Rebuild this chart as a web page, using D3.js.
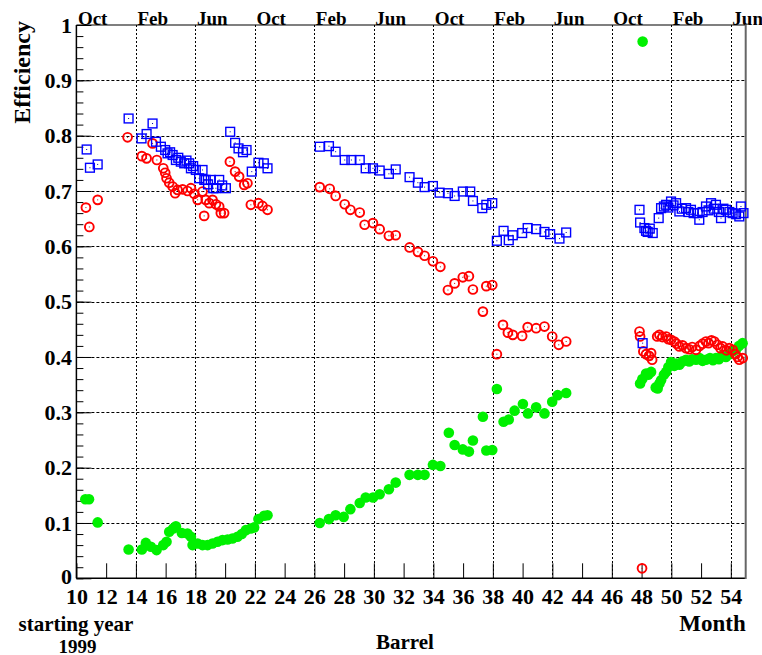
<!DOCTYPE html>
<html>
<head>
<meta charset="utf-8">
<script src="https://cdn.jsdelivr.net/npm/d3@7"></script>
<style>
  html, body { margin: 0; padding: 0; background: #fff; }
  svg { display: block; }
  text { font-family: "Liberation Serif", "Times New Roman", serif; font-weight: bold; fill: #000; }
</style>
</head>
<body>
<script>
// Efficiency per month, three measurement series: [month, efficiency]
const squareSeries = [
  [10.69,0.775],[10.91,0.742],[11.43,0.748],
  [13.51,0.831],
  [14.38,0.795],[14.72,0.803],[15.12,0.822],[15.35,0.789],[15.68,0.780],[15.97,0.774],[16.13,0.768],[16.30,0.770],
  [16.47,0.765],[16.69,0.756],[16.85,0.760],[17.02,0.753],[17.25,0.750],[17.40,0.755],[17.58,0.750],[17.70,0.741],
  [17.85,0.745],[18.03,0.738],[18.25,0.723],[18.48,0.738],[18.60,0.720],[18.70,0.720],[18.85,0.712],[19.04,0.720],
  [19.20,0.705],[19.38,0.705],[19.60,0.720],[19.80,0.710],[20.05,0.705],
  [20.34,0.807],[20.67,0.787],[20.90,0.777],[21.20,0.770],[21.44,0.774],[21.79,0.735],[22.24,0.751],[22.60,0.750],[22.85,0.741],
  [26.36,0.780],[26.98,0.781],[27.43,0.771],[28.04,0.756],[28.49,0.756],[29.05,0.756],[29.45,0.741],[29.94,0.741],
  [30.39,0.737],[31.01,0.731],[31.47,0.739],[32.40,0.725],[32.96,0.715],[33.41,0.707],[33.97,0.709],[34.42,0.697],
  [34.98,0.696],[35.43,0.691],[35.98,0.699],[36.48,0.699],[36.66,0.682],[37.29,0.669],[37.56,0.675],[37.96,0.678],
  [38.27,0.610],[38.72,0.628],[39.07,0.611],[39.34,0.620],[39.97,0.624],[40.34,0.633],[40.91,0.631],[41.47,0.626],
  [41.85,0.622],[42.48,0.614],[42.93,0.625],
  [47.86,0.666],[47.90,0.643],[48.07,0.425],[48.19,0.633],[48.30,0.628],[48.41,0.626],[48.55,0.632],[48.75,0.624],
  [49.15,0.651],[49.31,0.669],[49.50,0.672],[49.65,0.675],[49.80,0.670],[49.98,0.681],[50.15,0.674],[50.32,0.678],
  [50.54,0.663],[50.70,0.668],[50.99,0.669],[51.15,0.662],[51.32,0.666],[51.50,0.660],[51.77,0.660],[51.88,0.648],
  [52.10,0.662],[52.33,0.672],[52.50,0.665],[52.67,0.678],[52.85,0.668],[53.00,0.675],[53.20,0.662],[53.34,0.651],
  [53.50,0.668],[53.67,0.666],[53.90,0.662],[54.12,0.660],[54.35,0.658],[54.57,0.654],[54.68,0.672],[54.85,0.660]
];

const circleSeries = [
  [10.64,0.670],[10.87,0.635],[11.43,0.684],
  [13.44,0.797],
  [14.40,0.763],[14.72,0.759],[15.12,0.786],[15.41,0.756],[15.84,0.741],[15.97,0.733],[16.06,0.723],[16.24,0.715],
  [16.47,0.708],[16.64,0.696],[16.80,0.702],[17.14,0.703],[17.47,0.700],[17.70,0.705],[17.92,0.695],[18.15,0.684],
  [18.48,0.699],[18.59,0.655],[18.70,0.684],[18.93,0.678],[19.15,0.684],[19.38,0.676],[19.60,0.672],[19.71,0.660],[19.93,0.660],
  [20.32,0.753],[20.67,0.735],[20.94,0.726],[21.28,0.711],[21.50,0.714],[21.73,0.675],[22.24,0.678],[22.51,0.673],[22.85,0.666],
  [26.36,0.707],[27.03,0.704],[27.43,0.691],[28.04,0.676],[28.42,0.666],[29.05,0.661],[29.38,0.639],[29.94,0.642],
  [30.39,0.631],[31.01,0.619],[31.47,0.620],[32.40,0.598],[32.96,0.590],[33.41,0.583],[33.97,0.573],[34.47,0.563],
  [34.98,0.521],[35.43,0.533],[35.98,0.544],[36.39,0.546],[36.66,0.522],[37.33,0.482],[37.56,0.528],[37.96,0.530],
  [38.27,0.405],[38.68,0.458],[39.01,0.444],[39.34,0.440],[39.97,0.438],[40.34,0.454],[40.91,0.452],[41.47,0.455],
  [41.99,0.437],[42.43,0.422],[42.93,0.428],
  [47.86,0.446],[47.90,0.437],[48.03,0.018],[48.12,0.410],[48.30,0.405],[48.50,0.402],[48.64,0.407],[48.71,0.395],
  [49.05,0.437],[49.20,0.440],[49.40,0.436],[49.65,0.437],[49.80,0.432],[49.98,0.431],[50.20,0.428],[50.35,0.424],
  [50.54,0.419],[50.75,0.421],[50.99,0.416],[51.20,0.414],[51.40,0.418],[51.66,0.413],[51.90,0.420],[52.10,0.424],
  [52.33,0.428],[52.50,0.425],[52.70,0.430],[52.89,0.428],[53.10,0.422],[53.30,0.416],[53.45,0.419],[53.70,0.412],
  [53.90,0.416],[54.12,0.413],[54.30,0.405],[54.45,0.400],[54.57,0.395],[54.80,0.398]
];

const dotSeries = [
  [10.60,0.143],[10.85,0.143],[11.43,0.101],
  [13.51,0.052],
  [14.40,0.052],[14.67,0.064],[15.01,0.057],[15.39,0.051],[15.84,0.060],[16.06,0.066],[16.24,0.084],[16.51,0.090],
  [16.69,0.094],[17.09,0.082],[17.47,0.081],[17.70,0.075],[17.81,0.060],[18.15,0.063],[18.48,0.060],[18.82,0.060],
  [19.15,0.063],[19.49,0.066],[19.82,0.069],[20.16,0.070],[20.49,0.072],[20.83,0.075],[21.12,0.080],[21.39,0.087],
  [21.73,0.090],[21.95,0.092],[22.24,0.107],[22.62,0.113],[22.85,0.114],
  [26.36,0.100],[26.98,0.107],[27.43,0.114],[27.97,0.111],[28.42,0.125],[29.05,0.136],[29.45,0.146],[29.94,0.146],
  [30.39,0.152],[31.01,0.161],[31.47,0.173],[32.40,0.187],[32.96,0.187],[33.41,0.187],[33.97,0.205],[34.47,0.203],
  [35.04,0.263],[35.43,0.241],[35.98,0.233],[36.39,0.229],[36.66,0.249],[37.33,0.292],[37.56,0.231],[37.96,0.232],
  [38.27,0.342],[38.72,0.283],[39.07,0.287],[39.46,0.303],[40.02,0.315],[40.36,0.298],[40.91,0.309],[41.47,0.298],
  [41.99,0.319],[42.36,0.331],[42.93,0.335],
  [47.90,0.352],[48.05,0.360],[48.07,0.970],[48.30,0.370],[48.45,0.368],[48.64,0.373],[48.95,0.345],[49.08,0.343],
  [49.20,0.352],[49.31,0.358],[49.50,0.368],[49.65,0.373],[49.80,0.382],[49.98,0.391],[50.20,0.384],[50.35,0.388],
  [50.54,0.386],[50.75,0.392],[50.99,0.395],[51.20,0.392],[51.40,0.396],[51.66,0.395],[51.90,0.398],[52.10,0.393],
  [52.33,0.395],[52.60,0.398],[52.80,0.394],[53.00,0.398],[53.20,0.396],[53.40,0.402],[53.67,0.400],[53.90,0.405],
  [54.10,0.410],[54.34,0.413],[54.55,0.420],[54.79,0.425]
];

// Axis ticks and labels
const monthTicks = [10,12,14,16,18,20,22,24,26,28,30,32,34,36,38,40,42,44,46,48,50,52,54];
const seasonTicks = [10,14,18,22,26,30,34,38,42,46,50,54];
const seasonLabels = ["Oct","Feb","Jun","Oct","Feb","Jun","Oct","Feb","Jun","Oct","Feb","Jun"];
const effTicks = [0,0.1,0.2,0.3,0.4,0.5,0.6,0.7,0.8,0.9,1];
const effMinorTicks = d3.range(0, 101, 2).map(v => v / 100);

const W = 762, H = 655;
const plotLeft = 76.4, plotRight = 745.7, plotTop = 25, plotBottom = 578.3;

const svg = d3.select("body").append("svg").attr("width", W).attr("height", H);

const x = d3.scaleLinear().domain([10, 55]).range([plotLeft, plotRight]);
const y = d3.scaleLinear().domain([0, 1]).range([plotBottom, plotTop]);

// dotted grid
const grid = svg.append("g").attr("stroke", "#000").attr("stroke-width", 1).attr("fill", "none");
grid.selectAll("line.h").data(effTicks.filter(v => v > 0 && v < 1)).join("line")
  .attr("x1", plotLeft).attr("x2", plotRight)
  .attr("y1", d => Math.round(y(d)) + 0.5).attr("y2", d => Math.round(y(d)) + 0.5)
  .attr("stroke-dasharray", "3,2");
grid.selectAll("line.v").data(seasonTicks.filter(v => v > 10)).join("line")
  .attr("x1", d => Math.round(x(d)) + 0.5).attr("x2", d => Math.round(x(d)) + 0.5)
  .attr("y1", plotTop).attr("y2", plotBottom)
  .attr("stroke-dasharray", "2,2");

// bottom axis: ticks pointing up into the frame
const xAxis = svg.append("g").attr("transform", `translate(0,${plotBottom})`)
  .call(d3.axisBottom(x).tickValues(monthTicks).tickSizeInner(-15).tickSizeOuter(0).tickFormat(d3.format("d")));
xAxis.select(".domain").remove();
xAxis.selectAll(".tick line").attr("stroke", "#000").attr("stroke-width", 1);
xAxis.selectAll(".tick text").attr("y", 25.7).attr("dy", 0).attr("font-size", 22)
  .style("font-family", "'Liberation Serif', serif").style("font-weight", "bold");

// top axis: season labels
const topAxis = svg.append("g").attr("transform", `translate(0,${plotTop})`)
  .call(d3.axisTop(x).tickValues(seasonTicks).tickSize(0).tickFormat((d, i) => seasonLabels[i]));
topAxis.select(".domain").remove();
topAxis.selectAll(".tick text").attr("text-anchor", "start").attr("x", 1).attr("y", -0.5).attr("dy", 0)
  .attr("font-size", 19).style("font-family", "'Liberation Serif', serif").style("font-weight", "bold");

// left axis: major and minor ticks inside the frame
const yMinor = svg.append("g").attr("transform", `translate(${plotLeft},0)`)
  .call(d3.axisLeft(y).tickValues(effMinorTicks).tickSize(-7).tickFormat(""));
yMinor.select(".domain").remove();
const yAxis = svg.append("g").attr("transform", `translate(${plotLeft},0)`)
  .call(d3.axisLeft(y).tickValues(effTicks).tickSizeInner(-15).tickSizeOuter(0)
    .tickFormat(d => d === 0 ? "0" : d === 1 ? "1" : d.toFixed(1)));
yAxis.select(".domain").remove();
yAxis.selectAll(".tick text").attr("x", -4.4).attr("dy", 7.3).attr("font-size", 22)
  .style("font-family", "'Liberation Serif', serif").style("font-weight", "bold");
// the zero label sits a little higher so it clears the month labels below
yAxis.selectAll(".tick text").filter(d => d === 0).attr("dy", 5.5);

// frame
const frame = svg.append("g").attr("fill", "none");
frame.append("line").attr("x1", plotLeft).attr("x2", plotRight).attr("y1", plotTop).attr("y2", plotTop).attr("stroke", "#000").attr("stroke-width", 1.2);
frame.append("line").attr("x1", plotLeft).attr("x2", plotRight).attr("y1", plotBottom).attr("y2", plotBottom).attr("stroke", "#000").attr("stroke-width", 1.5);
frame.append("line").attr("x1", plotLeft).attr("x2", plotLeft).attr("y1", plotTop).attr("y2", plotBottom).attr("stroke", "#000").attr("stroke-width", 1.5);
frame.append("line").attr("x1", plotRight).attr("x2", plotRight).attr("y1", plotTop - 0.6).attr("y2", plotBottom + 0.8).attr("stroke", "#666").attr("stroke-width", 2);

// filled green markers
svg.append("g").selectAll("circle").data(dotSeries).join("circle")
  .attr("cx", d => x(d[0])).attr("cy", d => y(d[1])).attr("r", 5.3).attr("fill", "#00f000");

// open red circles
const circ = svg.append("g");
circ.selectAll("circle").data(circleSeries).join("circle")
  .attr("cx", d => x(d[0])).attr("cy", d => y(d[1])).attr("r", 4.4)
  .attr("fill", "none").attr("stroke", "#ff0000").attr("stroke-width", 1.9);
circ.selectAll("rect").data(circleSeries).join("rect")
  .attr("x", d => x(d[0]) - 0.5).attr("y", d => y(d[1]) - 0.5).attr("width", 1).attr("height", 1).attr("fill", "#c00");

// open blue squares
const sq = svg.append("g");
sq.selectAll("rect.box").data(squareSeries).join("rect").attr("class", "box")
  .attr("x", d => x(d[0]) - 4.4).attr("y", d => y(d[1]) - 4.4).attr("width", 8.8).attr("height", 8.8)
  .attr("fill", "none").attr("stroke", "#0000ff").attr("stroke-width", 1.4);
sq.selectAll("rect.pt").data(squareSeries).join("rect").attr("class", "pt")
  .attr("x", d => x(d[0]) - 0.5).attr("y", d => y(d[1]) - 0.5).attr("width", 1).attr("height", 1).attr("fill", "#00a");

// titles
svg.append("text").attr("transform", "translate(29.5,21) rotate(-90)").attr("text-anchor", "end")
  .attr("font-size", 24).text("Efficiency");
svg.append("text").attr("x", 405).attr("y", 649).attr("text-anchor", "middle").attr("font-size", 21).text("Barrel");
svg.append("text").attr("x", plotRight).attr("y", 631).attr("text-anchor", "end").attr("font-size", 23).text("Month");
svg.append("text").attr("x", 76).attr("y", 631).attr("text-anchor", "middle").attr("font-size", 21).text("starting year");
svg.append("text").attr("x", 77.5).attr("y", 652.5).attr("text-anchor", "middle").attr("font-size", 19).text("1999");
</script>
</body>
</html>
